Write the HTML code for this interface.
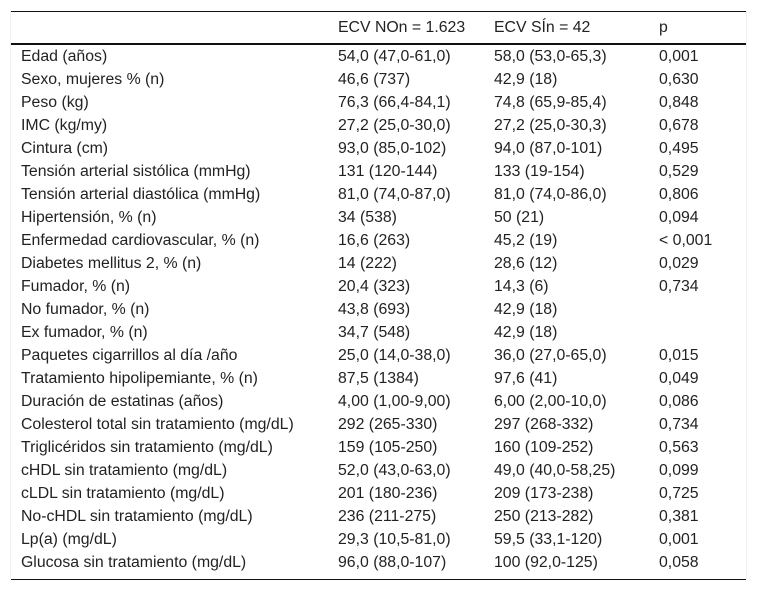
<!DOCTYPE html>
<html lang="es">
<head>
<meta charset="utf-8">
<title>Tabla ECV</title>
<style>
html,body{margin:0;padding:0;background:#fff;}
body{width:757px;height:591px;position:relative;overflow:hidden;font-family:"Liberation Sans",sans-serif;font-size:15.84px;color:#222;}
#wrap{position:absolute;left:10px;top:11px;width:735px;height:568px;border-left:1px solid #f0f0f0;border-right:1px solid #f0f0f0;}
#top-rule{position:absolute;left:11px;top:11px;width:735px;height:1px;background:#111;}
#head-rule{position:absolute;left:11px;top:43px;width:735px;height:2px;background:#111;}
#bottom-rule{position:absolute;left:11px;top:579px;width:735px;height:1px;background:#111;}
.r{position:absolute;left:0;width:757px;height:23px;line-height:23px;white-space:nowrap;}
.r span{position:absolute;top:0;}
.a{left:21px;}.b{left:338px;}.c{left:494px;}.d{left:659px;}
</style>
</head>
<body>
<div id="wrap"></div>
<div id="top-rule"></div>
<div id="head-rule"></div>
<div id="bottom-rule"></div>

<div class="r" style="top:16px"><span class="b">ECV NOn = 1.623</span><span class="c">ECV SÍn = 42</span><span class="d">p</span></div>

<div class="r" style="top:45px"><span class="a">Edad (años)</span><span class="b">54,0 (47,0-61,0)</span><span class="c">58,0 (53,0-65,3)</span><span class="d">0,001</span></div>
<div class="r" style="top:68px"><span class="a">Sexo, mujeres % (n)</span><span class="b">46,6 (737)</span><span class="c">42,9 (18)</span><span class="d">0,630</span></div>
<div class="r" style="top:91px"><span class="a">Peso (kg)</span><span class="b">76,3 (66,4-84,1)</span><span class="c">74,8 (65,9-85,4)</span><span class="d">0,848</span></div>
<div class="r" style="top:114px"><span class="a">IMC (kg/my)</span><span class="b">27,2 (25,0-30,0)</span><span class="c">27,2 (25,0-30,3)</span><span class="d">0,678</span></div>
<div class="r" style="top:137px"><span class="a">Cintura (cm)</span><span class="b">93,0 (85,0-102)</span><span class="c">94,0 (87,0-101)</span><span class="d">0,495</span></div>
<div class="r" style="top:160px"><span class="a">Tensión arterial sistólica (mmHg)</span><span class="b">131 (120-144)</span><span class="c">133 (19-154)</span><span class="d">0,529</span></div>
<div class="r" style="top:183px"><span class="a">Tensión arterial diastólica (mmHg)</span><span class="b">81,0 (74,0-87,0)</span><span class="c">81,0 (74,0-86,0)</span><span class="d">0,806</span></div>
<div class="r" style="top:206px"><span class="a">Hipertensión, % (n)</span><span class="b">34 (538)</span><span class="c">50 (21)</span><span class="d">0,094</span></div>
<div class="r" style="top:229px"><span class="a">Enfermedad cardiovascular, % (n)</span><span class="b">16,6 (263)</span><span class="c">45,2 (19)</span><span class="d">&lt; 0,001</span></div>
<div class="r" style="top:252px"><span class="a">Diabetes mellitus 2, % (n)</span><span class="b">14 (222)</span><span class="c">28,6 (12)</span><span class="d">0,029</span></div>
<div class="r" style="top:275px"><span class="a">Fumador, % (n)</span><span class="b">20,4 (323)</span><span class="c">14,3 (6)</span><span class="d">0,734</span></div>
<div class="r" style="top:298px"><span class="a">No fumador, % (n)</span><span class="b">43,8 (693)</span><span class="c">42,9 (18)</span></div>
<div class="r" style="top:321px"><span class="a">Ex fumador, % (n)</span><span class="b">34,7 (548)</span><span class="c">42,9 (18)</span></div>
<div class="r" style="top:344px"><span class="a">Paquetes cigarrillos al día /año</span><span class="b">25,0 (14,0-38,0)</span><span class="c">36,0 (27,0-65,0)</span><span class="d">0,015</span></div>
<div class="r" style="top:367px"><span class="a">Tratamiento hipolipemiante, % (n)</span><span class="b">87,5 (1384)</span><span class="c">97,6 (41)</span><span class="d">0,049</span></div>
<div class="r" style="top:390px"><span class="a">Duración de estatinas (años)</span><span class="b">4,00 (1,00-9,00)</span><span class="c">6,00 (2,00-10,0)</span><span class="d">0,086</span></div>
<div class="r" style="top:413px"><span class="a">Colesterol total sin tratamiento (mg/dL)</span><span class="b">292 (265-330)</span><span class="c">297 (268-332)</span><span class="d">0,734</span></div>
<div class="r" style="top:436px"><span class="a">Triglicéridos sin tratamiento (mg/dL)</span><span class="b">159 (105-250)</span><span class="c">160 (109-252)</span><span class="d">0,563</span></div>
<div class="r" style="top:459px"><span class="a">cHDL sin tratamiento (mg/dL)</span><span class="b">52,0 (43,0-63,0)</span><span class="c">49,0 (40,0-58,25)</span><span class="d">0,099</span></div>
<div class="r" style="top:482px"><span class="a">cLDL sin tratamiento (mg/dL)</span><span class="b">201 (180-236)</span><span class="c">209 (173-238)</span><span class="d">0,725</span></div>
<div class="r" style="top:505px"><span class="a">No-cHDL sin tratamiento (mg/dL)</span><span class="b">236 (211-275)</span><span class="c">250 (213-282)</span><span class="d">0,381</span></div>
<div class="r" style="top:528px"><span class="a">Lp(a) (mg/dL)</span><span class="b">29,3 (10,5-81,0)</span><span class="c">59,5 (33,1-120)</span><span class="d">0,001</span></div>
<div class="r" style="top:551px"><span class="a">Glucosa sin tratamiento (mg/dL)</span><span class="b">96,0 (88,0-107)</span><span class="c">100 (92,0-125)</span><span class="d">0,058</span></div>
</body>
</html>
